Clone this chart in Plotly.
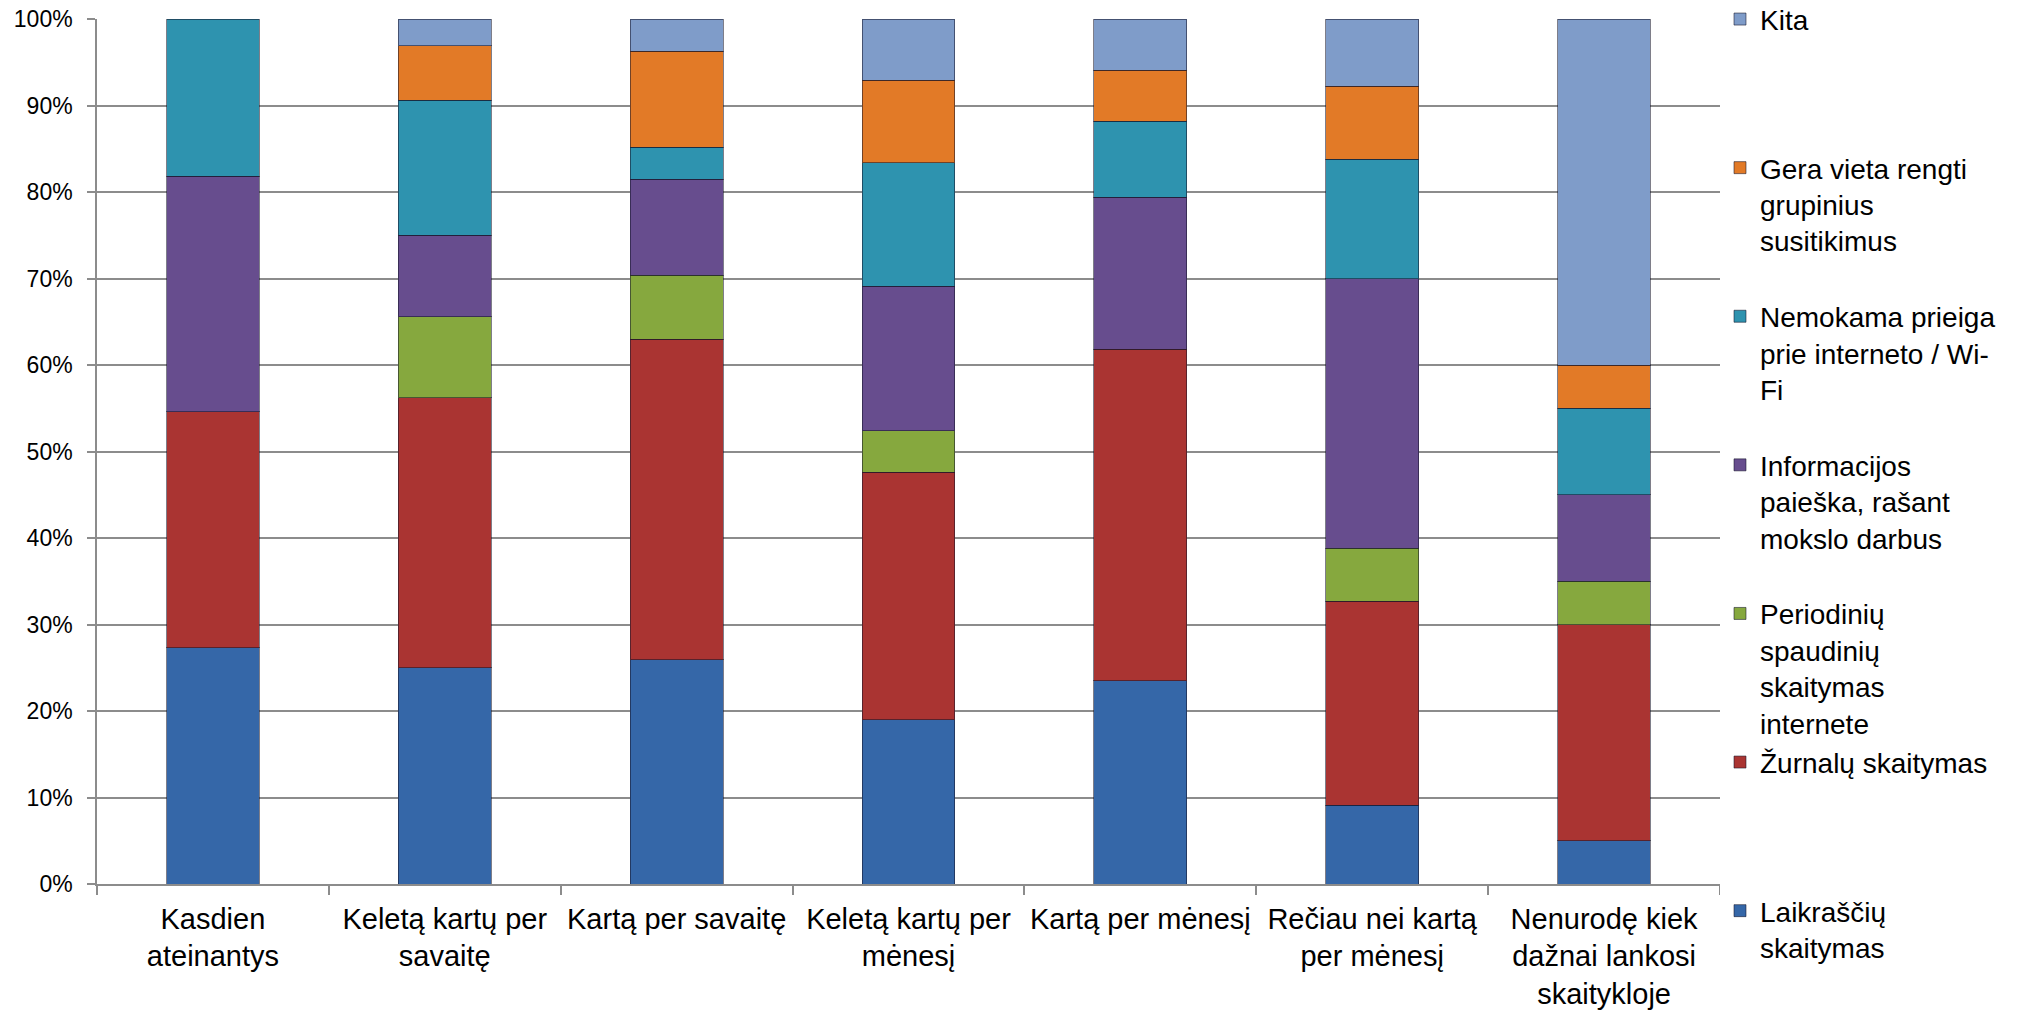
import plotly.graph_objects as go

categories = [
    "Kasdien<br>ateinantys",
    "Keletą kartų per<br>savaitę",
    "Kartą per savaitę",
    "Keletą kartų per<br>mėnesį",
    "Kartą per mėnesį",
    "Rečiau nei kartą<br>per mėnesį",
    "Nenurodę kiek<br>dažnai lankosi<br>skaitykloje",
]

laikrasciu = [27.3, 25.0, 25.9, 19.0, 23.5, 9.1, 5.0]
zurnalu = [27.3, 31.2, 37.1, 28.6, 38.3, 23.6, 25.0]
periodiniu = [0.0, 9.4, 7.4, 4.8, 0.0, 6.1, 5.0]
informacijos = [27.2, 9.4, 11.1, 16.7, 17.6, 31.2, 10.0]
nemokama = [18.2, 15.6, 3.7, 14.3, 8.8, 13.8, 10.0]
gera_vieta = [0.0, 6.3, 11.1, 9.5, 5.9, 8.4, 5.0]
kita = [0.0, 3.1, 3.7, 7.1, 5.9, 7.8, 40.0]

series_names = [
    "Laikraščių<br>skaitymas",
    "Žurnalų skaitymas",
    "Periodinių<br>spaudinių<br>skaitymas<br>internete",
    "Informacijos<br>paieška, rašant<br>mokslo darbus",
    "Nemokama prieiga<br>prie interneto / Wi-<br>Fi",
    "Gera vieta rengti<br>grupinius<br>susitikimus",
    "Kita",
]
series_values = [laikrasciu, zurnalu, periodiniu, informacijos, nemokama, gera_vieta, kita]
series_colors = ["#3567A8", "#AA3432", "#86A83E", "#674D8E", "#2E93AF", "#E27A27", "#7F9CC9"]

FONT = "Liberation Sans"
LEG_LINES = 4


def pad(name, last):
    if last:
        return name
    n = name.count("<br>") + 1
    return name + "<br>\u00a0" * (LEG_LINES - n)


fig = go.Figure()
for i, (name, vals, col) in enumerate(zip(series_names, series_values, series_colors)):
    fig.add_trace(go.Bar(
        x=categories,
        y=[v if v else None for v in vals],
        name=pad(name, i == 0),
        marker=dict(color=col, line=dict(color="rgba(20,20,40,0.55)", width=1)),
    ))

fig.update_layout(
    barmode="stack",
    bargap=0.6,
    width=2031,
    height=1014,
    margin=dict(l=97, r=311, t=19, b=130, autoexpand=False),
    paper_bgcolor="white",
    plot_bgcolor="white",
    font=dict(family=FONT, size=28, color="black"),
    showlegend=True,
    legend=dict(
        x=1.0, xanchor="left",
        y=1.0285, yanchor="top",
        traceorder="reversed",
        valign="top",
        maxheight=1014,
        font=dict(family=FONT, size=28, color="black"),
        itemwidth=30,
    ),
)

fig.update_yaxes(
    range=[0, 100],
    tickvals=[0, 10, 20, 30, 40, 50, 60, 70, 80, 90, 100],
    ticktext=["0%", "10%", "20%", "30%", "40%", "50%", "60%", "70%", "80%", "90%", "100%"],
    showgrid=True, gridcolor="#8c8c8c", gridwidth=1.5,
    showline=True, linecolor="#8c8c8c", linewidth=1.5,
    ticks="outside", ticklen=8, tickcolor="#8c8c8c", tickwidth=1.5,
    ticklabelstandoff=10,
    ticklabeloverflow="allow",
    tickfont=dict(family=FONT, size=23, color="black"),
    zeroline=False,
)
fig.update_xaxes(
    showline=True, linecolor="#8c8c8c", linewidth=1.5,
    ticks="outside", ticklen=9, tickcolor="#8c8c8c", tickwidth=1.5,
    tickson="boundaries",
    ticklabelstandoff=8,
    ticklabeloverflow="allow",
    tickfont=dict(family=FONT, size=29, color="black"),
    tickangle=0,
)

fig.write_html(
    "out.html",
    config={"displayModeBar": False},
    post_script="document.body.style.margin='0';document.body.style.overflow='hidden';",
)
